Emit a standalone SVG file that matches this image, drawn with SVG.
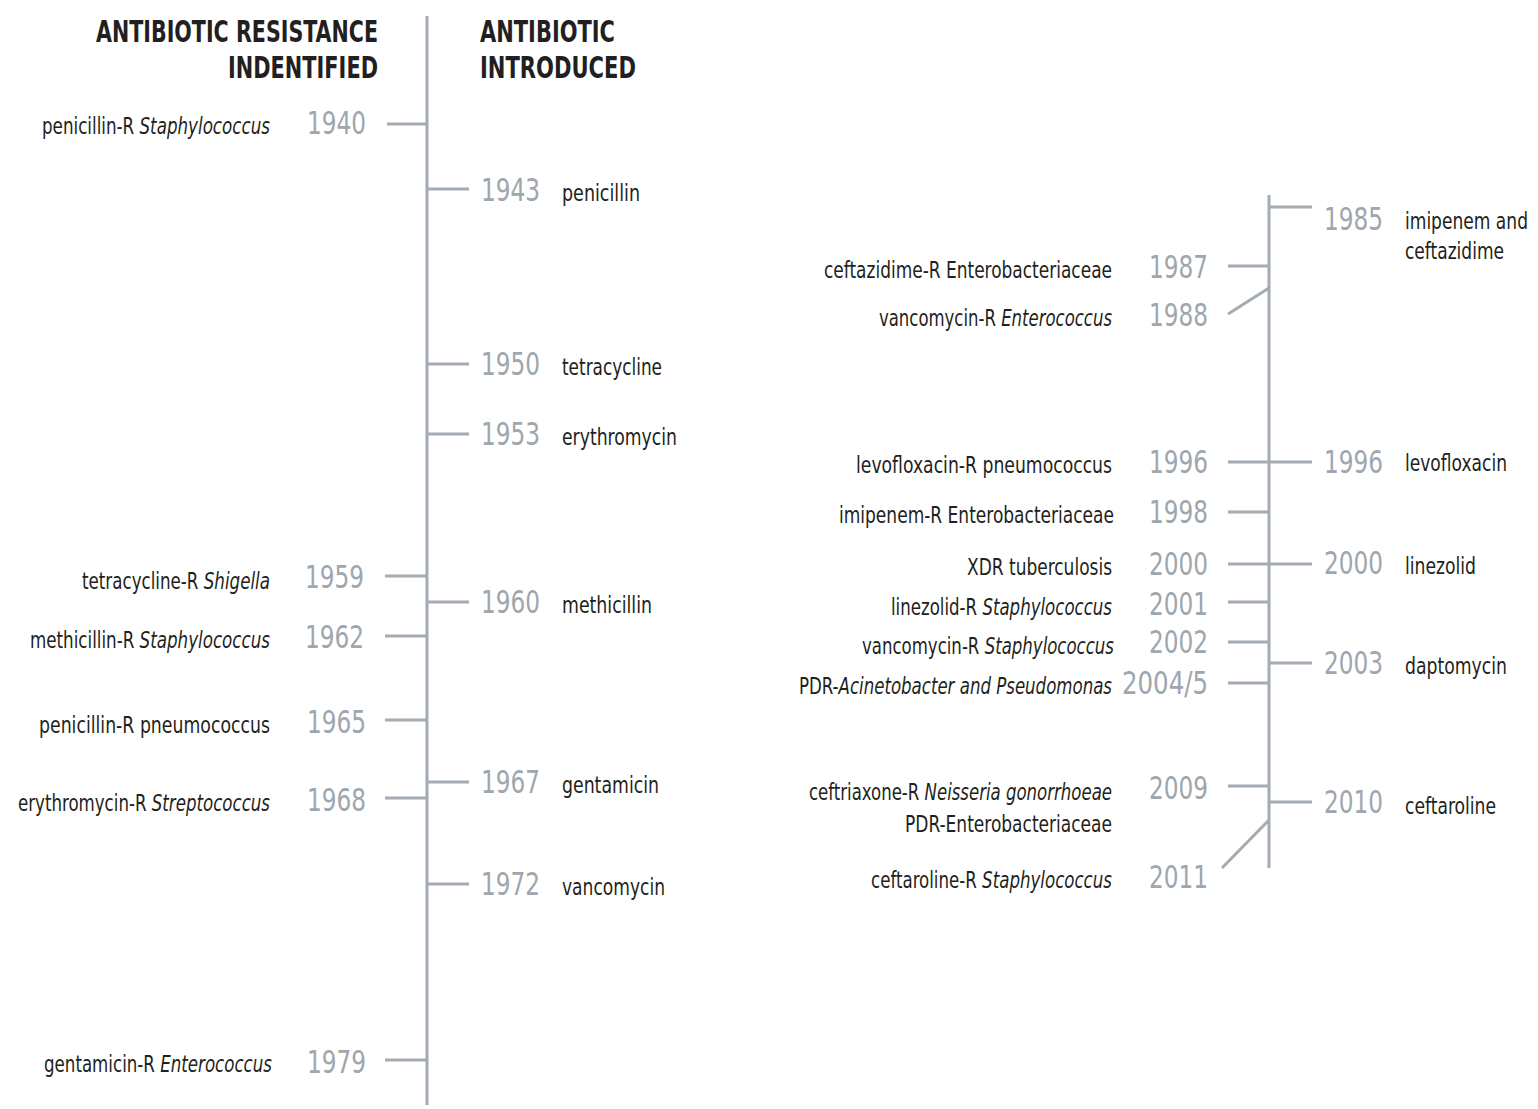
<svg xmlns="http://www.w3.org/2000/svg" width="1538" height="1109" viewBox="0 0 1538 1109">
<style>
.ln{stroke:#a3abb3;stroke-width:3;fill:none}
.hd{font-family:"Liberation Sans Narrow","DejaVu Sans Condensed","Liberation Sans",sans-serif;font-weight:bold;font-size:30px;fill:#231f20}
.yr{font-family:"Liberation Sans Narrow","DejaVu Sans Condensed","Liberation Sans",sans-serif;font-size:32px;fill:#9ea6ae}
.lb{font-family:"Liberation Sans Narrow","DejaVu Sans Condensed","Liberation Sans",sans-serif;font-size:23px;fill:#231f20}
.i{font-style:italic}
.e{text-anchor:end}
</style>
<rect width="1538" height="1109" fill="#ffffff"/>
<g id="headers">
<text class="hd e" x="378" y="42" textLength="282" lengthAdjust="spacingAndGlyphs">ANTIBIOTIC RESISTANCE</text>
<text class="hd e" x="378" y="78" textLength="150" lengthAdjust="spacingAndGlyphs">INDENTIFIED</text>
<text class="hd" x="480" y="42" textLength="135" lengthAdjust="spacingAndGlyphs">ANTIBIOTIC</text>
<text class="hd" x="480" y="78" textLength="156" lengthAdjust="spacingAndGlyphs">INTRODUCED</text>
</g>
<g id="connectors">
<line class="ln" x1="427" y1="16" x2="427" y2="1105"/>
<line class="ln" x1="1269" y1="195" x2="1269" y2="868"/>
<line class="ln" x1="387" y1="124" x2="427" y2="124"/>
<line class="ln" x1="385" y1="576" x2="427" y2="576"/>
<line class="ln" x1="385" y1="636" x2="427" y2="636"/>
<line class="ln" x1="385" y1="720" x2="427" y2="720"/>
<line class="ln" x1="385" y1="798" x2="427" y2="798"/>
<line class="ln" x1="385" y1="1060" x2="427" y2="1060"/>
<line class="ln" x1="427" y1="189" x2="469" y2="189"/>
<line class="ln" x1="427" y1="364" x2="469" y2="364"/>
<line class="ln" x1="427" y1="434" x2="469" y2="434"/>
<line class="ln" x1="427" y1="602" x2="469" y2="602"/>
<line class="ln" x1="427" y1="782" x2="469" y2="782"/>
<line class="ln" x1="427" y1="884" x2="469" y2="884"/>
<line class="ln" x1="1269" y1="207" x2="1312" y2="207"/>
<line class="ln" x1="1228" y1="266" x2="1269" y2="266"/>
<line class="ln" x1="1228" y1="314" x2="1269" y2="288"/>
<line class="ln" x1="1228" y1="462" x2="1312" y2="462"/>
<line class="ln" x1="1228" y1="512" x2="1269" y2="512"/>
<line class="ln" x1="1228" y1="564" x2="1312" y2="564"/>
<line class="ln" x1="1228" y1="602" x2="1269" y2="602"/>
<line class="ln" x1="1228" y1="642" x2="1269" y2="642"/>
<line class="ln" x1="1228" y1="683" x2="1269" y2="683"/>
<line class="ln" x1="1269" y1="663" x2="1312" y2="663"/>
<line class="ln" x1="1228" y1="786" x2="1269" y2="786"/>
<line class="ln" x1="1269" y1="802" x2="1312" y2="802"/>
<line class="ln" x1="1222" y1="868" x2="1269" y2="820"/>
</g>
<g id="r1940"><text class="yr e" x="366" y="134" textLength="59" lengthAdjust="spacingAndGlyphs">1940</text><text class="lb e" x="270" y="134" textLength="228" lengthAdjust="spacingAndGlyphs">penicillin-R <tspan class="i">Staphylococcus</tspan></text></g>
<g id="r1959"><text class="yr e" x="364" y="588" textLength="59" lengthAdjust="spacingAndGlyphs">1959</text><text class="lb e" x="270" y="589" textLength="188" lengthAdjust="spacingAndGlyphs">tetracycline-R <tspan class="i">Shigella</tspan></text></g>
<g id="r1962"><text class="yr e" x="364" y="648" textLength="59" lengthAdjust="spacingAndGlyphs">1962</text><text class="lb e" x="270" y="648" textLength="240" lengthAdjust="spacingAndGlyphs">methicillin-R <tspan class="i">Staphylococcus</tspan></text></g>
<g id="r1965"><text class="yr e" x="366" y="733" textLength="59" lengthAdjust="spacingAndGlyphs">1965</text><text class="lb e" x="270" y="733" textLength="231" lengthAdjust="spacingAndGlyphs">penicillin-R pneumococcus</text></g>
<g id="r1968"><text class="yr e" x="366" y="811" textLength="59" lengthAdjust="spacingAndGlyphs">1968</text><text class="lb e" x="270" y="811" textLength="252" lengthAdjust="spacingAndGlyphs">erythromycin-R <tspan class="i">Streptococcus</tspan></text></g>
<g id="r1979"><text class="yr e" x="366" y="1073" textLength="59" lengthAdjust="spacingAndGlyphs">1979</text><text class="lb e" x="272" y="1072" textLength="228" lengthAdjust="spacingAndGlyphs">gentamicin-R <tspan class="i">Enterococcus</tspan></text></g>
<g id="a1943"><text class="yr" x="481" y="201" textLength="59" lengthAdjust="spacingAndGlyphs">1943</text><text class="lb" x="562" y="201" textLength="78" lengthAdjust="spacingAndGlyphs">penicillin</text></g>
<g id="a1950"><text class="yr" x="481" y="375" textLength="59" lengthAdjust="spacingAndGlyphs">1950</text><text class="lb" x="562" y="375" textLength="100" lengthAdjust="spacingAndGlyphs">tetracycline</text></g>
<g id="a1953"><text class="yr" x="481" y="445" textLength="59" lengthAdjust="spacingAndGlyphs">1953</text><text class="lb" x="562" y="445" textLength="115" lengthAdjust="spacingAndGlyphs">erythromycin</text></g>
<g id="a1960"><text class="yr" x="481" y="613" textLength="59" lengthAdjust="spacingAndGlyphs">1960</text><text class="lb" x="562" y="613" textLength="90" lengthAdjust="spacingAndGlyphs">methicillin</text></g>
<g id="a1967"><text class="yr" x="481" y="793" textLength="59" lengthAdjust="spacingAndGlyphs">1967</text><text class="lb" x="562" y="793" textLength="97" lengthAdjust="spacingAndGlyphs">gentamicin</text></g>
<g id="a1972"><text class="yr" x="481" y="895" textLength="59" lengthAdjust="spacingAndGlyphs">1972</text><text class="lb" x="562" y="895" textLength="103" lengthAdjust="spacingAndGlyphs">vancomycin</text></g>
<g id="a1985"><text class="yr" x="1324" y="230" textLength="59" lengthAdjust="spacingAndGlyphs">1985</text><text class="lb" x="1405" y="229" textLength="123" lengthAdjust="spacingAndGlyphs">imipenem and</text><text class="lb" x="1405" y="259" textLength="99" lengthAdjust="spacingAndGlyphs">ceftazidime</text></g>
<g id="r1987"><text class="yr e" x="1208" y="278" textLength="59" lengthAdjust="spacingAndGlyphs">1987</text><text class="lb e" x="1112" y="278" textLength="288" lengthAdjust="spacingAndGlyphs">ceftazidime-R Enterobacteriaceae</text></g>
<g id="r1988"><text class="yr e" x="1208" y="326" textLength="59" lengthAdjust="spacingAndGlyphs">1988</text><text class="lb e" x="1112" y="326" textLength="233" lengthAdjust="spacingAndGlyphs">vancomycin-R <tspan class="i">Enterococcus</tspan></text></g>
<g id="r1996"><text class="yr e" x="1208" y="473" textLength="59" lengthAdjust="spacingAndGlyphs">1996</text><text class="lb e" x="1112" y="473" textLength="256" lengthAdjust="spacingAndGlyphs">levofloxacin-R pneumococcus</text></g>
<g id="a1996"><text class="yr" x="1324" y="473" textLength="59" lengthAdjust="spacingAndGlyphs">1996</text><text class="lb" x="1405" y="471" textLength="102" lengthAdjust="spacingAndGlyphs">levofloxacin</text></g>
<g id="r1998"><text class="yr e" x="1208" y="523" textLength="59" lengthAdjust="spacingAndGlyphs">1998</text><text class="lb e" x="1114" y="523" textLength="275" lengthAdjust="spacingAndGlyphs">imipenem-R Enterobacteriaceae</text></g>
<g id="r2000"><text class="yr e" x="1208" y="575" textLength="59" lengthAdjust="spacingAndGlyphs">2000</text><text class="lb e" x="1112" y="575" textLength="145" lengthAdjust="spacingAndGlyphs">XDR tuberculosis</text></g>
<g id="a2000"><text class="yr" x="1324" y="574" textLength="59" lengthAdjust="spacingAndGlyphs">2000</text><text class="lb" x="1405" y="574" textLength="71" lengthAdjust="spacingAndGlyphs">linezolid</text></g>
<g id="r2001"><text class="yr e" x="1208" y="615" textLength="59" lengthAdjust="spacingAndGlyphs">2001</text><text class="lb e" x="1112" y="615" textLength="221" lengthAdjust="spacingAndGlyphs">linezolid-R <tspan class="i">Staphylococcus</tspan></text></g>
<g id="r2002"><text class="yr e" x="1208" y="653" textLength="59" lengthAdjust="spacingAndGlyphs">2002</text><text class="lb e" x="1114" y="654" textLength="252" lengthAdjust="spacingAndGlyphs">vancomycin-R <tspan class="i">Staphylococcus</tspan></text></g>
<g id="r2004"><text class="yr e" x="1208" y="694" textLength="86" lengthAdjust="spacingAndGlyphs">2004/5</text><text class="lb e" x="1112" y="694" textLength="313" lengthAdjust="spacingAndGlyphs">PDR-<tspan class="i">Acinetobacter and Pseudomonas</tspan></text></g>
<g id="a2003"><text class="yr" x="1324" y="674" textLength="59" lengthAdjust="spacingAndGlyphs">2003</text><text class="lb" x="1405" y="674" textLength="102" lengthAdjust="spacingAndGlyphs">daptomycin</text></g>
<g id="r2009"><text class="yr e" x="1208" y="799" textLength="59" lengthAdjust="spacingAndGlyphs">2009</text><text class="lb e" x="1112" y="800" textLength="303" lengthAdjust="spacingAndGlyphs">ceftriaxone-R <tspan class="i">Neisseria gonorrhoeae</tspan></text><text class="lb e" x="1112" y="832" textLength="207" lengthAdjust="spacingAndGlyphs">PDR-Enterobacteriaceae</text></g>
<g id="a2010"><text class="yr" x="1324" y="813" textLength="59" lengthAdjust="spacingAndGlyphs">2010</text><text class="lb" x="1405" y="814" textLength="91" lengthAdjust="spacingAndGlyphs">ceftaroline</text></g>
<g id="r2011"><text class="yr e" x="1208" y="888" textLength="59" lengthAdjust="spacingAndGlyphs">2011</text><text class="lb e" x="1112" y="888" textLength="241" lengthAdjust="spacingAndGlyphs">ceftaroline-R <tspan class="i">Staphylococcus</tspan></text></g>
</svg>
